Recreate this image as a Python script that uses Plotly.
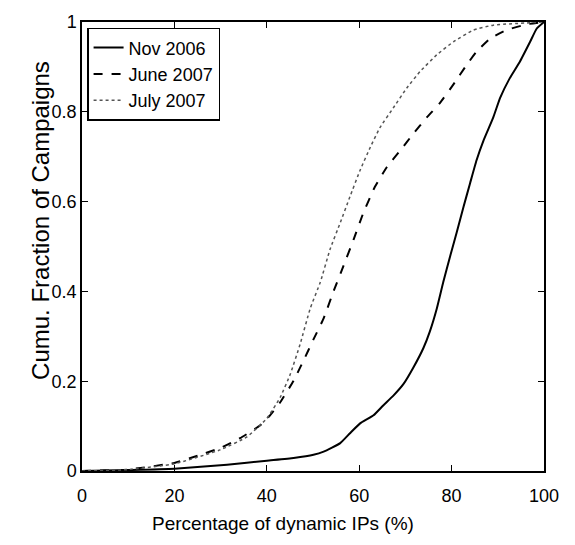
import plotly.graph_objects as go

# Data (x: % dynamic IPs, y: cumulative fraction)
nov_x = [0, 10, 20, 31.4, 40, 45.8, 50.1, 52.3, 55.9, 58, 60.2, 63.1, 65.2, 67.4, 69.6,
         71.7, 73.9, 75.3, 76.8, 78.2, 79.7, 81.1, 82.6, 84, 85.4, 86.9, 89, 90.5,
         92.6, 94.8, 97, 98.4, 100]
nov_y = [0, 0.002, 0.005, 0.014, 0.023, 0.029, 0.036, 0.043, 0.062, 0.084, 0.106, 0.124,
         0.146, 0.168, 0.194, 0.23, 0.274, 0.311, 0.362, 0.421, 0.479, 0.531, 0.589,
         0.641, 0.692, 0.736, 0.787, 0.831, 0.875, 0.912, 0.956, 0.985, 1.0]

jun_x = [0, 9.7, 20, 25.6, 29.9, 34.2, 38.6, 40.7, 42.9, 45.8, 47.9, 50.1, 52.3, 54.4,
         56.6, 58.8, 60.9, 63.4, 66, 68.9, 71.7, 74.6, 77.5, 80.4, 83.3, 85.4, 88.3,
         91.9, 96.3, 100]
jun_y = [0, 0.003, 0.018, 0.036, 0.051, 0.073, 0.102, 0.124, 0.153, 0.201, 0.245, 0.293,
         0.34, 0.399, 0.457, 0.516, 0.575, 0.633, 0.677, 0.714, 0.751, 0.787, 0.82,
         0.861, 0.905, 0.934, 0.963, 0.982, 0.995, 1.0]

jul_x = [0, 9.7, 20, 29.9, 35.7, 40, 42.9, 45.1, 47.2, 49.4, 51.6, 53.7, 55.9, 58, 60.2,
         62.4, 64.5, 67.4, 70.3, 73.2, 76.8, 80.4, 84.7, 89, 100]
jul_y = [0, 0.003, 0.016, 0.047, 0.076, 0.117, 0.164, 0.216, 0.282, 0.362, 0.421, 0.494,
         0.553, 0.611, 0.67, 0.721, 0.765, 0.809, 0.853, 0.89, 0.927, 0.956, 0.982,
         0.993, 1.0]

names = ["Nov 2006", "June 2007", "July 2007"]
x_ticks = [0, 20, 40, 60, 80, 100]
x_ticktext = ["0", "20", "40", "60", "80", "100"]
y_ticks = [0, 0.2, 0.4, 0.6, 0.8, 1]
y_ticktext = ["0", "0.2", "0.4", "0.6", "0.8", "1"]

FONT = "Liberation Sans, Arial, Helvetica, sans-serif"

fig = go.Figure()
fig.add_trace(go.Scatter(x=nov_x, y=nov_y, mode="lines", name=names[0],
                         line=dict(color="black", width=2, dash="solid", shape="spline", smoothing=0.4)))
fig.add_trace(go.Scatter(x=jun_x, y=jun_y, mode="lines", name=names[1],
                         line=dict(color="black", width=2, dash="dash", shape="spline", smoothing=0.4)))
fig.add_trace(go.Scatter(x=jul_x, y=jul_y, mode="lines", name=names[2],
                         line=dict(color="#555555", width=1.5, dash="dot", shape="spline", smoothing=0.4)))

axis_common = dict(showline=True, linecolor="black", linewidth=1.5, mirror="ticks",
                   ticks="inside", ticklen=6, tickwidth=1.2, tickcolor="black",
                   showgrid=False, zeroline=False,
                   tickfont=dict(family=FONT, size=18, color="black"))

fig.update_layout(
    width=575, height=545,
    margin=dict(l=82, r=31, t=17, b=74),
    paper_bgcolor="white", plot_bgcolor="white",
    xaxis=dict(range=[0, 100], tickvals=x_ticks, ticktext=x_ticktext,
               ticklabelstandoff=8, **axis_common),
    yaxis=dict(range=[0, 1], tickvals=y_ticks, ticktext=y_ticktext,
               ticklabelstandoff=0, **axis_common),
    legend=dict(x=0.011, y=0.987, xanchor="left", yanchor="top",
                bordercolor="black", borderwidth=1.5, bgcolor="white",
                font=dict(family=FONT, size=18, color="black"),
                tracegroupgap=0, itemwidth=30),
    showlegend=True,
    annotations=[
        dict(text="Percentage of dynamic IPs (%)", xref="paper", yref="paper",
             x=0.435, y=-0.1167, xanchor="center", yanchor="middle", showarrow=False,
             font=dict(family=FONT, size=19, color="black")),
        dict(text="Cumu. Fraction of Campaigns", xref="paper", yref="paper",
             x=-0.0887, y=0.557, xanchor="center", yanchor="middle", showarrow=False,
             textangle=-90, font=dict(family=FONT, size=24, color="black")),
    ],
)

fig.write_html("out.html")
